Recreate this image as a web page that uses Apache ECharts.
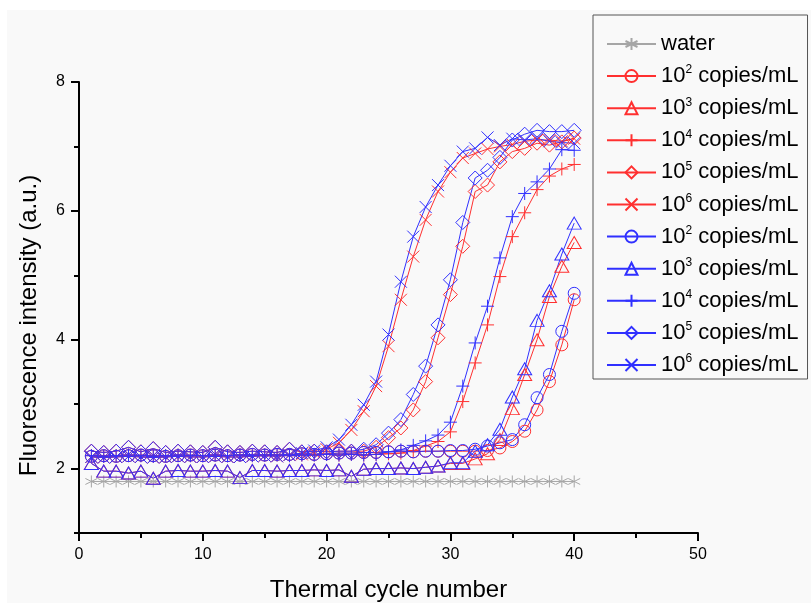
<!DOCTYPE html>
<html>
<head>
<meta charset="utf-8">
<script src="https://cdn.jsdelivr.net/npm/echarts@6/dist/echarts.min.js"></script>
<style>
  html, body { margin: 0; padding: 0; background: #fff; }
  #main { width: 811px; height: 603px; }
</style>
</head>
<body>
<div id="main"></div>
<script>
// thermal cycles
var cycles = [1,2,3,4,5,6,7,8,9,10,11,12,13,14,15,16,17,18,19,20,
              21,22,23,24,25,26,27,28,29,30,31,32,33,34,35,36,37,38,39,40];

var water = [1.8,1.8,1.8,1.8,1.8,1.8,1.8,1.8,1.8,1.8,1.8,1.8,1.8,1.8,1.8,1.8,1.8,1.8,1.8,1.8,
             1.8,1.8,1.8,1.8,1.8,1.8,1.8,1.8,1.8,1.8,1.8,1.8,1.8,1.8,1.8,1.8,1.8,1.8,1.8,1.8];

// red curves
var red2 = [2.19,2.2,2.19,2.2,2.21,2.2,2.19,2.2,2.21,2.2, 2.21,2.2,2.21,2.22,2.21,2.22,2.22,2.23,2.22,2.23,
            2.24,2.24,2.25,2.25,2.26,2.27,2.26,2.27,2.27,2.27, 2.27,2.27,2.28,2.32,2.42,2.58,2.91,3.35,3.92,4.62];
var red3 = [2.08,1.96,1.96,1.93,1.96,1.85,1.96,1.97,1.96,1.96, 1.97,1.96,1.86,1.97,1.97,1.96,1.97,1.97,1.98,1.97,
            1.98,1.88,1.99,2.0,2.0,2.01,2.0,2.02,2.04,2.08, 2.08,2.15,2.23,2.45,2.93,3.46,4.0,4.67,5.14,5.51];
var red4 = [2.2,2.19,2.2,2.21,2.2,2.19,2.2,2.21,2.2,2.2, 2.21,2.2,2.21,2.2,2.21,2.21,2.2,2.21,2.21,2.22,
            2.21,2.22,2.21,2.22,2.23,2.24,2.28,2.35,2.42,2.57, 3.04,3.64,4.23,4.98,5.6,5.97,6.33,6.54,6.65,6.72];
var red5 = [2.27,2.25,2.27,2.33,2.26,2.31,2.25,2.27,2.26,2.25, 2.33,2.26,2.25,2.27,2.26,2.25,2.3,2.26,2.27,2.26,
            2.27,2.27,2.27,2.33,2.48,2.63,2.91,3.35,4.03,4.7, 5.45,6.3,6.4,6.76,6.92,6.97,7.05,7.02,7.07,7.13];
var red6 = [2.18,2.17,2.18,2.19,2.18,2.17,2.18,2.19,2.18,2.18, 2.19,2.18,2.18,2.19,2.2,2.19,2.21,2.22,2.25,2.3,
            2.4,2.6,2.89,3.28,3.9,4.62,5.29,5.86,6.3,6.6, 6.82,6.89,6.96,7.0,7.03,7.08,7.1,7.1,7.08,7.12];

// blue curves
var blue2 = [2.19,2.2,2.19,2.2,2.21,2.2,2.19,2.2,2.21,2.2, 2.21,2.2,2.21,2.22,2.21,2.22,2.22,2.23,2.22,2.23,
             2.24,2.24,2.25,2.25,2.26,2.27,2.26,2.27,2.27,2.28, 2.28,2.3,2.35,2.4,2.45,2.68,3.1,3.46,4.13,4.72];
var blue3 = [2.08,1.96,1.96,1.93,1.96,1.85,1.96,1.97,1.96,1.96, 1.97,1.96,1.86,1.97,1.97,1.96,1.97,1.97,1.98,1.97,
             1.98,1.88,1.99,2.0,2.0,2.01,2.0,2.02,2.04,2.09, 2.09,2.27,2.37,2.61,3.11,3.55,4.3,4.76,5.33,5.81];
var blue4 = [2.2,2.19,2.2,2.21,2.2,2.19,2.2,2.21,2.2,2.2, 2.21,2.2,2.21,2.2,2.21,2.21,2.2,2.21,2.21,2.22,
             2.21,2.22,2.21,2.22,2.26,2.29,2.36,2.43,2.52,2.72, 3.28,3.95,4.52,5.27,5.91,6.27,6.45,6.65,6.95,6.94];
var blue5 = [2.27,2.25,2.27,2.33,2.26,2.31,2.25,2.27,2.26,2.25, 2.33,2.26,2.25,2.27,2.26,2.25,2.3,2.26,2.27,2.26,
             2.27,2.27,2.3,2.37,2.55,2.76,3.15,3.59,4.23,4.93, 5.82,6.51,6.63,6.83,7.1,7.19,7.25,7.23,7.23,7.25];
var blue6 = [2.18,2.17,2.18,2.19,2.18,2.17,2.18,2.19,2.18,2.18, 2.19,2.18,2.18,2.19,2.2,2.19,2.21,2.24,2.28,2.33,
             2.45,2.68,2.99,3.35,4.08,4.9,5.6,6.06,6.4,6.7, 6.92,6.97,7.14,7.02,7.12,7.1,7.12,7.08,7.06,7.05];

var exponents = ['2', '3', '4', '5', '6'];
var xLabels = [0, 10, 20, 30, 40, 50];
var yLabels = [2, 4, 6, 8];

var RED = '#ff3030', BLUE = '#3030ff', GRAY = '#a6a6a6';
var FONT = '"Liberation Sans", Arial, sans-serif';

var shapes = {
  star: 'path://M0,-10L0,10M-8.66,-5L8.66,5M-8.66,5L8.66,-5',
  circle: 'circle',
  triangle: 'triangle',
  plus: 'path://M0,-1L0,1M-1,0L1,0',
  diamond: 'diamond',
  cross: 'path://M-1,-1L1,1M-1,1L1,-1'
};
var sizes = { star: 12, circle: 12, triangle: [14, 12], plus: 13, diamond: [14, 14], cross: 12 };

function pairs(vals) {
  return cycles.map(function (c, i) { return [c, vals[i]]; });
}

function mkSeries(name, vals, color, shape) {
  return {
    name: name,
    type: 'line',
    data: pairs(vals),
    symbol: shapes[shape],
    symbolSize: sizes[shape],
    showAllSymbol: true,
    lineStyle: { color: color, width: 1 },
    itemStyle: { color: 'rgba(0,0,0,0)', borderColor: color, borderWidth: 1 },
    emphasis: { disabled: true },
    animation: false
  };
}

var order = ['circle', 'triangle', 'plus', 'diamond', 'cross'];
var reds = [red2, red3, red4, red5, red6];
var blues = [blue2, blue3, blue4, blue5, blue6];

var series = [mkSeries('water', water, GRAY, 'star')];
var names = { water: '{n|water}' };
reds.forEach(function (v, i) {
  series.push(mkSeries('r' + exponents[i], v, RED, order[i]));
  names['r' + exponents[i]] = '{n|10}{s|' + exponents[i] + '}{n| copies/mL}';
});
blues.forEach(function (v, i) {
  series.push(mkSeries('b' + exponents[i], v, BLUE, order[i]));
  names['b' + exponents[i]] = '{n|10}{s|' + exponents[i] + '}{n| copies/mL}';
});

var axisColor = { color: '#000', width: 2 };

var chart = echarts.init(document.getElementById('main'));
chart.setOption({
  animation: false,
  graphic: [{
    type: 'rect', z: -10, silent: true,
    shape: { x: 7, y: 10, width: 804, height: 593 },
    style: { fill: '#f9f9f9' }
  }],
  grid: { left: 79, right: 113, top: 82, bottom: 70, containLabel: false, outerBoundsMode: 'none' },
  legend: {
    orient: 'vertical',
    left: 593, top: 15,
    padding: [18, 9, 3, 13],
    borderColor: '#555', borderWidth: 1,
    itemWidth: 49, itemHeight: 15, itemGap: 9.1,
    data: series.map(function (s) { return s.name; }),
    formatter: function (n) { return names[n]; },
    textStyle: {
      color: '#000', fontFamily: FONT, fontSize: 22,
      rich: {
        n: { fontFamily: FONT, fontSize: 22, lineHeight: 24, color: '#000' },
        s: { fontFamily: FONT, fontSize: 12, lineHeight: 12, verticalAlign: 'top', color: '#000' }
      }
    }
  },
  xAxis: [{
    type: 'value', min: 0, max: 50, interval: 5,
    name: 'Thermal cycle number', nameLocation: 'middle', nameGap: 45,
    nameTextStyle: { fontFamily: FONT, fontSize: 24, color: '#000' },
    axisLine: { lineStyle: axisColor },
    axisTick: { show: true, inside: false, length: 5, lineStyle: axisColor },
    axisLabel: { fontFamily: FONT, fontSize: 16, color: '#000', margin: 14, customValues: xLabels },
    splitLine: { show: false }
  }, {
    type: 'value', min: 0, max: 50, interval: 10, position: 'bottom', show: true,
    axisLine: { show: false },
    axisTick: { show: true, inside: false, length: 8, customValues: xLabels, lineStyle: axisColor },
    axisLabel: { show: false },
    splitLine: { show: false }
  }],
  yAxis: [{
    type: 'value', min: 1, max: 8, interval: 1,
    name: 'Fluorescence intensity (a.u.)', nameLocation: 'middle', nameGap: 38, nameRotate: 90,
    nameTextStyle: { fontFamily: FONT, fontSize: 24, color: '#000', padding: [0, 36, 0, 0] },
    axisLine: { show: true, lineStyle: axisColor },
    axisTick: { show: true, inside: false, length: 5, lineStyle: axisColor },
    axisLabel: { fontFamily: FONT, fontSize: 16, color: '#000', margin: 14, customValues: yLabels },
    splitLine: { show: false }
  }, {
    type: 'value', min: 1, max: 8, interval: 1, position: 'left', show: true,
    axisLine: { show: false },
    axisTick: { show: true, inside: false, length: 8, customValues: yLabels, lineStyle: axisColor },
    axisLabel: { show: false },
    splitLine: { show: false }
  }],
  series: series
});
</script>
</body>
</html>
